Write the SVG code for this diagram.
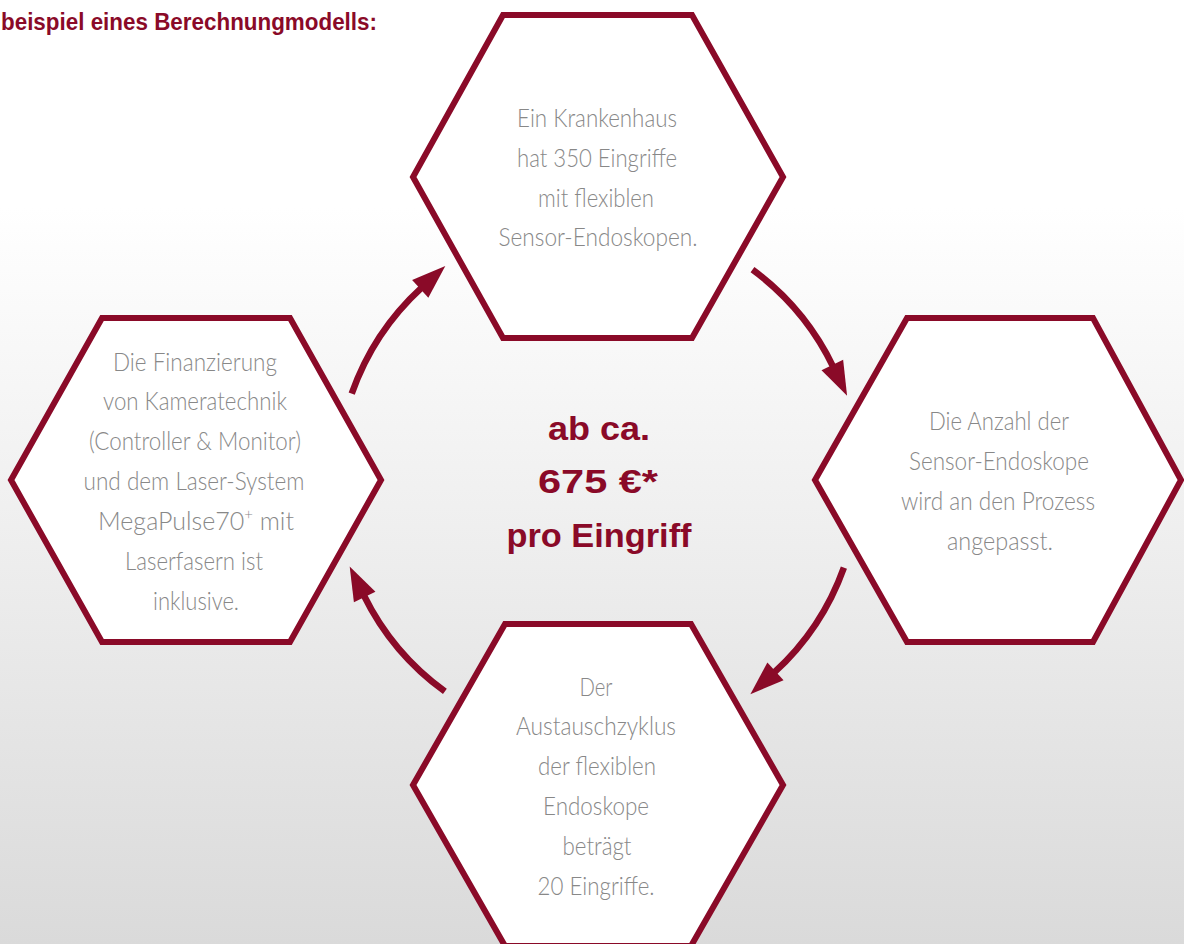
<svg xmlns="http://www.w3.org/2000/svg" width="1184" height="944" viewBox="0 0 1184 944">
<style>
.hex{fill:#ffffff;stroke:#8a0a28;stroke-width:6;stroke-linejoin:miter}
.t{font-family:Lato,"Liberation Sans",sans-serif;font-weight:300;font-size:25px;fill:#888888;text-anchor:middle}
.big{font-family:"Liberation Sans Narrow","Liberation Sans",sans-serif;font-weight:bold;font-size:34px;fill:#8a0a28;text-anchor:middle}
.title{font-family:"Liberation Sans Narrow","Liberation Sans",sans-serif;font-weight:bold;font-size:23px;fill:#8a0a28}
.arc{fill:none;stroke:#8a0a28;stroke-width:6.5}
</style>
<defs>
<linearGradient id="bg" x1="0" y1="0" x2="0" y2="944" gradientUnits="userSpaceOnUse">
<stop offset="0" stop-color="#ffffff"/>
<stop offset="0.22" stop-color="#ffffff"/>
<stop offset="1" stop-color="#dadada"/>
</linearGradient>
<marker id="ah" markerUnits="userSpaceOnUse" markerWidth="40" markerHeight="30" viewBox="0 0 40 30" refX="2" refY="12" orient="auto" overflow="visible">
<path d="M0,0 L34,12 L0,24 Z" fill="#8a0a28"/>
</marker>
</defs>
<rect x="0" y="0" width="1184" height="944" fill="url(#bg)"/>
<text class="title" x="1" y="30" textLength="376" lengthAdjust="spacingAndGlyphs">beispiel eines Berechnungmodells:</text>

<g id="connectors">
<path class="arc" d="M351.7,393.7 A261,261 0 0 1 421.7,287.6" marker-end="url(#ah)"/>
<path class="arc" d="M752.5,269.7 A261,261 0 0 1 833.2,366.8" marker-end="url(#ah)"/>
<path class="arc" d="M843.9,567.6 A261,261 0 0 1 774.0,672.7" marker-end="url(#ah)"/>
<path class="arc" d="M444.9,691.4 A261,261 0 0 1 363.8,595.2" marker-end="url(#ah)"/>
</g>

<g id="center">
<text class="big" x="599" y="440" textLength="102" lengthAdjust="spacingAndGlyphs">ab ca.</text>
<text class="big" x="598" y="493" textLength="120" lengthAdjust="spacingAndGlyphs">675 €*</text>
<text class="big" x="599" y="547" textLength="185" lengthAdjust="spacingAndGlyphs">pro Eingriff</text>
</g>

<g id="node-top">
<polygon class="hex" points="503,15 692,15 783,177 692,338 503,338 413,177"/>
<text class="t" x="597" y="127" textLength="160" lengthAdjust="spacingAndGlyphs">Ein Krankenhaus</text>
<text class="t" x="597" y="167" textLength="160" lengthAdjust="spacingAndGlyphs">hat 350 Eingriffe</text>
<text class="t" x="596" y="207" textLength="116" lengthAdjust="spacingAndGlyphs">mit flexiblen</text>
<text class="t" x="598" y="246" textLength="199" lengthAdjust="spacingAndGlyphs">Sensor-Endoskopen.</text>
</g>

<g id="node-right">
<polygon class="hex" points="907,318 1093,318 1181,480 1093,642 907,642 815,480"/>
<text class="t" x="999" y="430" textLength="140" lengthAdjust="spacingAndGlyphs">Die Anzahl der</text>
<text class="t" x="999" y="470" textLength="180" lengthAdjust="spacingAndGlyphs">Sensor-Endoskope</text>
<text class="t" x="998" y="510" textLength="194" lengthAdjust="spacingAndGlyphs">wird an den Prozess</text>
<text class="t" x="1000" y="550" textLength="106" lengthAdjust="spacingAndGlyphs">angepasst.</text>
</g>

<g id="node-bottom">
<polygon class="hex" points="505,624 691,624 783,785 691,946 505,946 413,785"/>
<text class="t" x="596" y="696" textLength="33" lengthAdjust="spacingAndGlyphs">Der</text>
<text class="t" x="596" y="735" textLength="160" lengthAdjust="spacingAndGlyphs">Austauschzyklus</text>
<text class="t" x="597" y="775" textLength="118" lengthAdjust="spacingAndGlyphs">der flexiblen</text>
<text class="t" x="596" y="815" textLength="106" lengthAdjust="spacingAndGlyphs">Endoskope</text>
<text class="t" x="597" y="855" textLength="69" lengthAdjust="spacingAndGlyphs">beträgt</text>
<text class="t" x="596" y="895" textLength="117" lengthAdjust="spacingAndGlyphs">20 Eingriffe.</text>
</g>

<g id="node-left">
<polygon class="hex" points="102,318 290,318 381,480 290,642 102,642 11,480"/>
<text class="t" x="195" y="371" textLength="164" lengthAdjust="spacingAndGlyphs">Die Finanzierung</text>
<text class="t" x="195" y="410" textLength="184" lengthAdjust="spacingAndGlyphs">von Kameratechnik</text>
<text class="t" x="195" y="450" textLength="212" lengthAdjust="spacingAndGlyphs">(Controller &amp; Monitor)</text>
<text class="t" x="194" y="490" textLength="221" lengthAdjust="spacingAndGlyphs">und dem Laser-System</text>
<text class="t" x="196" y="530">MegaPulse70<tspan font-size="15" dy="-10">+</tspan><tspan dy="10"> mit</tspan></text>
<text class="t" x="194" y="570" textLength="138" lengthAdjust="spacingAndGlyphs">Laserfasern ist</text>
<text class="t" x="196" y="610" textLength="86" lengthAdjust="spacingAndGlyphs">inklusive.</text>
</g>
</svg>
